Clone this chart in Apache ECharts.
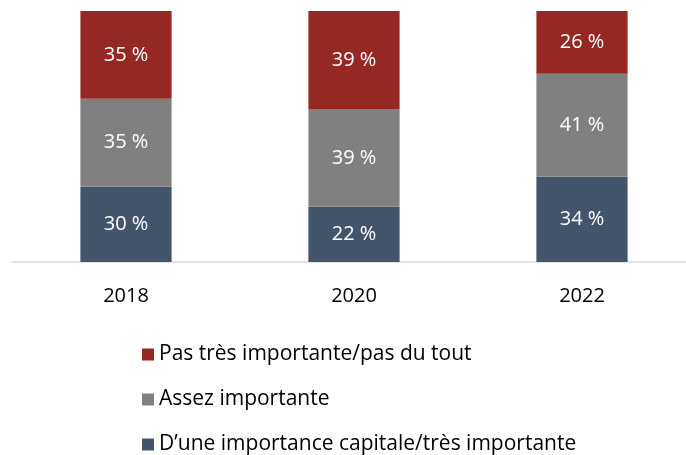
<!DOCTYPE html>
<html>
<head>
<meta charset="utf-8">
<script src="https://cdn.jsdelivr.net/npm/echarts@6/dist/echarts.min.js"></script>
<style>
  html, body { margin: 0; padding: 0; background: #fff; }
  #chart { width: 686px; height: 455px; }
</style>
</head>
<body>
<div id="chart"></div>
<script>
const years = ['2018', '2020', '2022']
const capitale = [30, 22, 34]
const assez = [35, 39, 41]
const pasTres = [35, 39, 26]

const names = [
  'Pas très importante/pas du tout',
  'Assez importante',
  'D\u2019une importance capitale/très importante',
]
const colors = ['#952823', '#808080', '#44546a']

const font = '"Open Sans", sans-serif'

function stack(name, data, color) {
  return {
    name,
    type: 'bar',
    stack: 'total',
    data,
    barWidth: '40%',
    itemStyle: { color },
    label: {
      show: true,
      position: 'inside',
      formatter: '{c} %',
      color: '#fff',
      fontFamily: font,
      fontSize: 20,
    },
  }
}

const chart = echarts.init(document.getElementById('chart'))
chart.setOption({
  animation: false,
  grid: { left: 12, width: 684, top: 11, height: 251, outerBoundsMode: 'none' },
  legend: {
    orient: 'vertical',
    left: 137,
    top: 339,
    height: 140,
    itemWidth: 12,
    itemHeight: 12,
    itemGap: 24,
    icon: 'rect',
    data: names,
    textStyle: { fontFamily: font, fontSize: 21, lineHeight: 20, color: '#000' },
  },
  xAxis: {
    type: 'category',
    data: years,
    axisLine: { lineStyle: { color: '#d9d9d9', width: 1.5 } },
    axisTick: { show: false },
    axisLabel: { color: '#000', fontFamily: font, fontSize: 20, margin: 24 },
  },
  yAxis: {
    type: 'value',
    min: 0,
    max: 100,
    show: false,
  },
  series: [
    stack(names[2], capitale, colors[2]),
    stack(names[1], assez, colors[1]),
    stack(names[0], pasTres, colors[0]),
  ],
})
</script>
</body>
</html>
